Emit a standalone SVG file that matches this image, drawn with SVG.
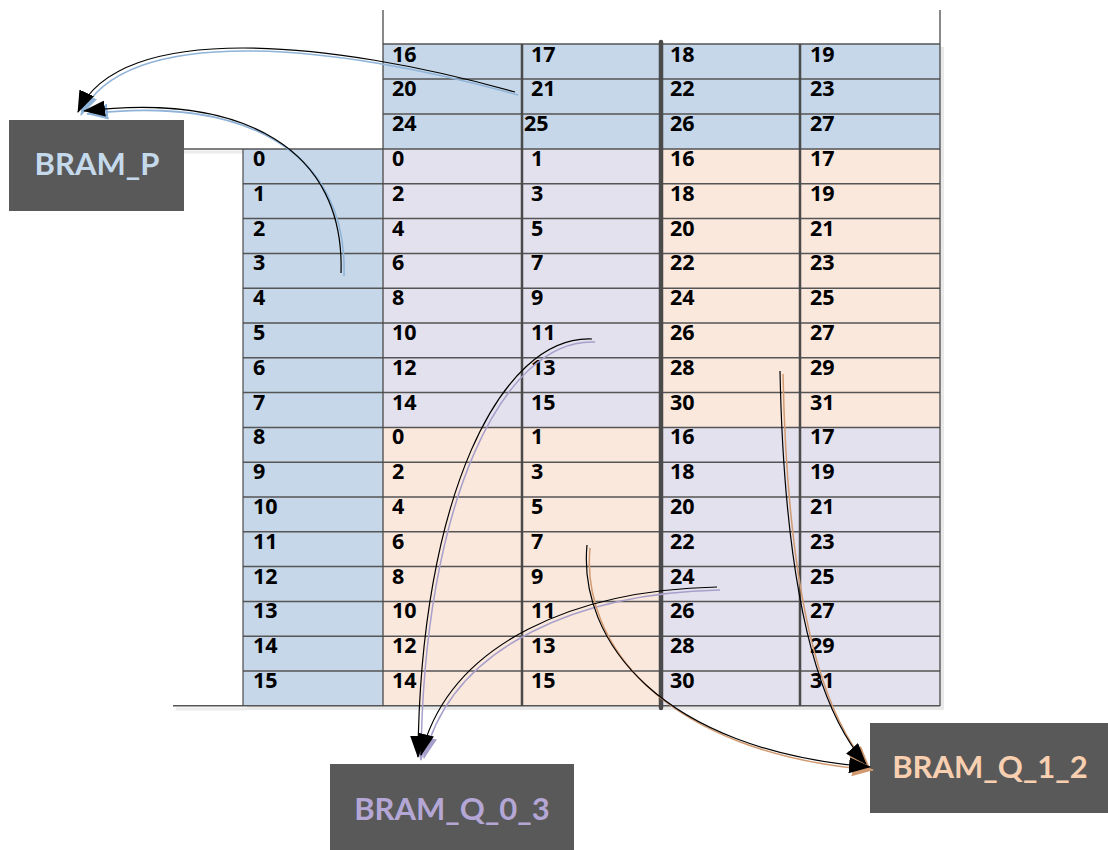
<svg xmlns="http://www.w3.org/2000/svg" width="1108" height="850" viewBox="0 0 1108 850">
<style>
.t{font-family:"Open Sans",Lato,"Liberation Sans",sans-serif;font-weight:700;font-size:21.5px;fill:#000}
.h{stroke:#555;stroke-width:1.5;fill:none}
.v{stroke:#4a4a4a;fill:none}
.box{fill:#595959}
.bt{font-family:Lato,"Liberation Sans",sans-serif;font-weight:700;font-size:31px;text-anchor:middle}
.k{fill:none;stroke:#000;stroke-width:1.2}
.sb{fill:none;stroke:#8FB3D9;stroke-width:1.5}
.sl{fill:none;stroke:#A79FCB;stroke-width:1.5}
.sp{fill:none;stroke:#D29A70;stroke-width:1.5}
</style>
<defs>
<marker id="ak" markerUnits="userSpaceOnUse" viewBox="0 0 22 16" markerWidth="22" markerHeight="16" refX="21" refY="8" orient="auto"><path d="M0,0 L22,8 L0,16 z" fill="#000"/></marker>
<marker id="ab" markerUnits="userSpaceOnUse" viewBox="0 0 22 16" markerWidth="22" markerHeight="16" refX="21" refY="8" orient="auto"><path d="M0,0 L22,8 L0,16 z" fill="#8FB3D9"/></marker>
<marker id="al" markerUnits="userSpaceOnUse" viewBox="0 0 22 16" markerWidth="22" markerHeight="16" refX="21" refY="8" orient="auto"><path d="M0,0 L22,8 L0,16 z" fill="#A79FCB"/></marker>
<marker id="ap" markerUnits="userSpaceOnUse" viewBox="0 0 22 16" markerWidth="22" markerHeight="16" refX="21" refY="8" orient="auto"><path d="M0,0 L22,8 L0,16 z" fill="#D29A70"/></marker>
</defs>
<rect width="1108" height="850" fill="#fff"/>

<g id="grid">
<!-- shadows -->
<rect x="386" y="47" width="558" height="105" fill="#e9e9e9"/>
<rect x="247" y="152" width="697" height="558" fill="#e9e9e9"/>
<line x1="184" y1="152" x2="247" y2="152" stroke="#ececec" stroke-width="3"/>
<line x1="176" y1="709" x2="247" y2="709" stroke="#ececec" stroke-width="3"/>
<!-- fills -->
<rect x="383" y="44" width="557" height="105" fill="#C5D7E8"/>
<rect x="243" y="149" width="140" height="557" fill="#C5D7E8"/>
<rect x="383" y="149" width="278" height="278.4" fill="#E4E1EE"/>
<rect x="661" y="427.4" width="279" height="278.6" fill="#E4E1EE"/>
<rect x="661" y="149" width="279" height="278.4" fill="#FBE8DC"/>
<rect x="383" y="427.4" width="278" height="278.6" fill="#FBE8DC"/>
<!-- horizontal lines -->
<line class="h" x1="383" y1="44" x2="940" y2="44" stroke="#7f7f7f"/>
<line class="h" x1="383" y1="79" x2="940" y2="79"/>
<line class="h" x1="383" y1="114" x2="940" y2="114"/>
<line class="h" x1="184" y1="149" x2="940" y2="149"/>
<line class="h" x1="243" y1="183.8" x2="940" y2="183.8"/>
<line class="h" x1="243" y1="218.6" x2="940" y2="218.6"/>
<line class="h" x1="243" y1="253.4" x2="940" y2="253.4"/>
<line class="h" x1="243" y1="288.2" x2="940" y2="288.2"/>
<line class="h" x1="243" y1="323" x2="940" y2="323"/>
<line class="h" x1="243" y1="357.8" x2="940" y2="357.8"/>
<line class="h" x1="243" y1="392.6" x2="940" y2="392.6"/>
<line class="h" x1="243" y1="427.4" x2="940" y2="427.4"/>
<line class="h" x1="243" y1="462.2" x2="940" y2="462.2"/>
<line class="h" x1="243" y1="497" x2="940" y2="497"/>
<line class="h" x1="243" y1="531.8" x2="940" y2="531.8"/>
<line class="h" x1="243" y1="566.6" x2="940" y2="566.6"/>
<line class="h" x1="243" y1="601.4" x2="940" y2="601.4"/>
<line class="h" x1="243" y1="636.2" x2="940" y2="636.2"/>
<line class="h" x1="243" y1="671" x2="940" y2="671"/>
<line class="h" x1="173" y1="705.8" x2="940" y2="705.8"/>
<!-- vertical lines -->
<line class="v" x1="243" y1="149" x2="243" y2="706" stroke="#808080" stroke-width="1.2"/>
<line class="v" x1="383" y1="10" x2="383" y2="706" stroke-width="1.3"/>
<line class="v" x1="522" y1="44" x2="522" y2="706" stroke-width="2.5"/>
<line class="v" x1="661" y1="42" x2="661" y2="708" stroke-width="4.5" stroke-linecap="round"/>
<line class="v" x1="800" y1="44" x2="800" y2="706" stroke-width="2.5"/>
<line class="v" x1="940" y1="10" x2="940" y2="706" stroke="#555" stroke-width="1.3"/>
<!-- top rows text -->
<text class="t" x="392" y="62">16</text><text class="t" x="531" y="62">17</text><text class="t" x="670" y="62">18</text><text class="t" x="810" y="62">19</text>
<text class="t" x="392" y="96">20</text><text class="t" x="531" y="96">21</text><text class="t" x="670" y="96">22</text><text class="t" x="810" y="96">23</text>
<text class="t" x="392" y="131">24</text><text class="t" x="524" y="131">25</text><text class="t" x="670" y="131">26</text><text class="t" x="810" y="131">27</text>
<!-- main rows -->
<g>
<text class="t" x="253" y="166">0</text><text class="t" x="392" y="166">0</text><text class="t" x="531" y="166">1</text><text class="t" x="670" y="166">16</text><text class="t" x="810" y="166">17</text>
<text class="t" x="253" y="200.8">1</text><text class="t" x="392" y="200.8">2</text><text class="t" x="531" y="200.8">3</text><text class="t" x="670" y="200.8">18</text><text class="t" x="810" y="200.8">19</text>
<text class="t" x="253" y="235.6">2</text><text class="t" x="392" y="235.6">4</text><text class="t" x="531" y="235.6">5</text><text class="t" x="670" y="235.6">20</text><text class="t" x="810" y="235.6">21</text>
<text class="t" x="253" y="270.4">3</text><text class="t" x="392" y="270.4">6</text><text class="t" x="531" y="270.4">7</text><text class="t" x="670" y="270.4">22</text><text class="t" x="810" y="270.4">23</text>
<text class="t" x="253" y="305.2">4</text><text class="t" x="392" y="305.2">8</text><text class="t" x="531" y="305.2">9</text><text class="t" x="670" y="305.2">24</text><text class="t" x="810" y="305.2">25</text>
<text class="t" x="253" y="340">5</text><text class="t" x="392" y="340">10</text><text class="t" x="531" y="340">11</text><text class="t" x="670" y="340">26</text><text class="t" x="810" y="340">27</text>
<text class="t" x="253" y="374.8">6</text><text class="t" x="392" y="374.8">12</text><text class="t" x="531" y="374.8">13</text><text class="t" x="670" y="374.8">28</text><text class="t" x="810" y="374.8">29</text>
<text class="t" x="253" y="409.6">7</text><text class="t" x="392" y="409.6">14</text><text class="t" x="531" y="409.6">15</text><text class="t" x="670" y="409.6">30</text><text class="t" x="810" y="409.6">31</text>
<text class="t" x="253" y="444.4">8</text><text class="t" x="392" y="444.4">0</text><text class="t" x="531" y="444.4">1</text><text class="t" x="670" y="444.4">16</text><text class="t" x="810" y="444.4">17</text>
<text class="t" x="253" y="479.2">9</text><text class="t" x="392" y="479.2">2</text><text class="t" x="531" y="479.2">3</text><text class="t" x="670" y="479.2">18</text><text class="t" x="810" y="479.2">19</text>
<text class="t" x="253" y="514">10</text><text class="t" x="392" y="514">4</text><text class="t" x="531" y="514">5</text><text class="t" x="670" y="514">20</text><text class="t" x="810" y="514">21</text>
<text class="t" x="253" y="548.8">11</text><text class="t" x="392" y="548.8">6</text><text class="t" x="531" y="548.8">7</text><text class="t" x="670" y="548.8">22</text><text class="t" x="810" y="548.8">23</text>
<text class="t" x="253" y="583.6">12</text><text class="t" x="392" y="583.6">8</text><text class="t" x="531" y="583.6">9</text><text class="t" x="670" y="583.6">24</text><text class="t" x="810" y="583.6">25</text>
<text class="t" x="253" y="618.4">13</text><text class="t" x="392" y="618.4">10</text><text class="t" x="531" y="618.4">11</text><text class="t" x="670" y="618.4">26</text><text class="t" x="810" y="618.4">27</text>
<text class="t" x="253" y="653.2">14</text><text class="t" x="392" y="653.2">12</text><text class="t" x="531" y="653.2">13</text><text class="t" x="670" y="653.2">28</text><text class="t" x="810" y="653.2">29</text>
<text class="t" x="253" y="688">15</text><text class="t" x="392" y="688">14</text><text class="t" x="531" y="688">15</text><text class="t" x="670" y="688">30</text><text class="t" x="810" y="688">31</text>
</g>
</g>

<g id="bram_p">
<rect class="box" x="9" y="120" width="175" height="91"/>
<text class="bt" x="97" y="175" fill="#C5D9EC">BRAM_P</text>
</g>
<g id="bram_q_0_3">
<rect class="box" x="330" y="764" width="244" height="86"/>
<text class="bt" x="452" y="820" fill="#B4A7D6">BRAM_Q_0_3</text>
</g>
<g id="bram_q_1_2">
<rect class="box" x="870" y="723" width="238" height="90"/>
<text class="bt" x="990" y="778" fill="#F8CFB0">BRAM_Q_1_2</text>
</g>

<g id="connectors">
<g transform="translate(3,3)">
<path class="sb" d="M515,92 C330,40 120,20 78,112" marker-end="url(#ab)"/>
<path class="sb" d="M341,273 C345,150 245,92 84,111" marker-end="url(#ab)"/>
<path class="sl" d="M592,339 C500,335 420,500 418,757" marker-end="url(#al)"/>
<path class="sl" d="M717,587 C580,590 450,640 421,755" marker-end="url(#al)"/>
<path class="sp" d="M587,545 C578,640 660,750 870,767" marker-end="url(#ap)"/>
<path class="sp" d="M780,371 C783,520 800,690 866,764" marker-end="url(#ap)"/>
</g>
<path class="k" d="M515,92 C330,40 120,20 78,112" marker-end="url(#ak)"/>
<path class="k" d="M341,273 C345,150 245,92 84,111" marker-end="url(#ak)"/>
<path class="k" d="M592,339 C500,335 420,500 418,757" marker-end="url(#ak)"/>
<path class="k" d="M717,587 C580,590 450,640 421,755" marker-end="url(#ak)"/>
<path class="k" d="M587,545 C578,640 660,750 870,767" marker-end="url(#ak)"/>
<path class="k" d="M780,371 C783,520 800,690 866,764" marker-end="url(#ak)"/>
</g>
</svg>
